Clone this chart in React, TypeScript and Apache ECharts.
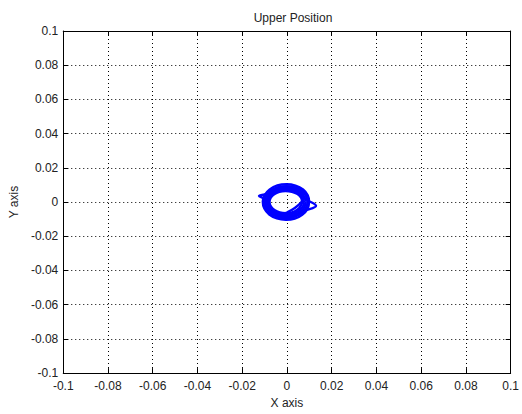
import React, { useEffect, useRef } from "react";
import * as echarts from "echarts";

const titleText = "Upper Position";
const xName = "X axis";
const yName = "Y axis";
const xTickLabels = ["-0.1", "-0.08", "-0.06", "-0.04", "-0.02", "0", "0.02", "0.04", "0.06", "0.08", "0.1"];
const yTickLabels = ["-0.1", "-0.08", "-0.06", "-0.04", "-0.02", "0", "0.02", "0.04", "0.06", "0.08", "0.1"];

const loop1 = [[0.0068,0.0002],[0.0063,0.0026],[0.0047,0.0047],[0.0022,0.0060],[-0.0006,0.0064],[-0.0034,0.0060],[-0.0057,0.0046],[-0.0073,0.0024],[-0.0078,-0.0001],[-0.0072,-0.0026],[-0.0056,-0.0047],[-0.0032,-0.0061],[-0.0004,-0.0065],[0.0023,-0.0060],[0.0046,-0.0045],[0.0062,-0.0022],[0.0068,0.0002]];
const loop2 = [[0.0076,-0.0003],[0.0071,0.0026],[0.0054,0.0052],[0.0027,0.0069],[-0.0004,0.0074],[-0.0036,0.0069],[-0.0062,0.0053],[-0.0080,0.0028],[-0.0086,0.0000],[-0.0080,-0.0029],[-0.0062,-0.0054],[-0.0035,-0.0070],[-0.0005,-0.0075],[0.0025,-0.0069],[0.0052,-0.0052],[0.0070,-0.0028],[0.0076,-0.0003]];
const loop3 = [[0.0084,0.0001],[0.0078,0.0031],[0.0060,0.0059],[0.0031,0.0077],[-0.0003,0.0083],[-0.0038,0.0078],[-0.0067,0.0060],[-0.0086,0.0032],[-0.0093,0.0001],[-0.0087,-0.0031],[-0.0068,-0.0059],[-0.0039,-0.0077],[-0.0006,-0.0084],[0.0028,-0.0078],[0.0057,-0.0059],[0.0077,-0.0032],[0.0084,0.0001]];
const loop4 = [[0.0092,0.0000],[0.0086,0.0035],[0.0066,0.0066],[0.0035,0.0086],[-0.0002,0.0093],[-0.0040,0.0087],[-0.0072,0.0067],[-0.0093,0.0036],[-0.0101,0.0002],[-0.0094,-0.0034],[-0.0073,-0.0066],[-0.0042,-0.0086],[-0.0005,-0.0094],[0.0032,-0.0087],[0.0063,-0.0066],[0.0085,-0.0036],[0.0092,0.0000]];
const loop5 = [[0.0099,0.0002],[0.0093,0.0039],[0.0072,0.0073],[0.0038,0.0096],[-0.0002,0.0104],[-0.0043,0.0097],[-0.0077,0.0074],[-0.0100,0.0040],[-0.0108,0.0002],[-0.0101,-0.0038],[-0.0079,-0.0073],[-0.0045,-0.0096],[-0.0005,-0.0104],[0.0035,-0.0097],[0.0068,-0.0074],[0.0092,-0.0040],[0.0099,0.0002]];
const loop6 = [[0.0090,0.0010],[0.0083,0.0045],[0.0060,0.0072],[0.0025,0.0088],[-0.0015,0.0088],[-0.0050,0.0075],[-0.0080,0.0050],[-0.0125,0.0035],[-0.0095,0.0010],[-0.0098,-0.0025],[-0.0080,-0.0060],[-0.0045,-0.0082],[-0.0005,-0.0090],[0.0035,-0.0082],[0.0070,-0.0055],[0.0130,-0.0022],[0.0090,0.0010]];
const loop7 = [[0.0075,0.0020],[0.0060,0.0045],[0.0030,0.0068],[-0.0005,0.0072],[-0.0040,0.0066],[-0.0068,0.0045],[-0.0082,0.0012],[-0.0075,-0.0025],[-0.0055,-0.0055],[-0.0025,-0.0070],[0.0005,-0.0058],[0.0035,-0.0035],[0.0062,-0.0005],[0.0075,0.0020]];

const loops = [loop1, loop2, loop3, loop4, loop5, loop6, loop7];

const FONT = "'Liberation Sans', Arial, sans-serif";
const TXT = "#222";

export default function App() {
  const ref = useRef<HTMLDivElement>(null);
  useEffect(() => {
    if (!ref.current) return;
    const chart = echarts.init(ref.current, undefined, { renderer: "svg" });
    const axisCommon = {
      type: "value",
      min: -0.1,
      max: 0.1,
      interval: 0.02,
      axisLine: { show: true, onZero: false, lineStyle: { color: "#000", width: 1 } },
      axisTick: { show: true, inside: true, length: 5, lineStyle: { color: "#000" } },
    };
    chart.setOption({
      animation: false,
      backgroundColor: "#fff",
      title: {
        text: titleText,
        left: 288,
        textAlign: "center",
        top: 7,
        textStyle: { fontFamily: FONT, fontSize: 12, fontWeight: "normal", color: TXT },
      },
      grid: { left: 62, right: 7, top: 31, bottom: 36 },
      xAxis: [
        {
          ...axisCommon,
          position: "bottom",
          name: xName,
          nameLocation: "middle",
          nameGap: 22,
          nameTextStyle: { fontFamily: FONT, fontSize: 12, color: TXT },
          axisLabel: {
            margin: 7,
            fontFamily: FONT,
            fontSize: 12,
            color: TXT,
            showMinLabel: true,
            showMaxLabel: true,
            formatter: (_v: number, i: number) => xTickLabels[i],
          },
          splitLine: { show: true, lineStyle: { color: "#000", width: 1, type: [1, 3] } },
        },
        {
          ...axisCommon,
          position: "top",
          axisLabel: { show: false },
          splitLine: { show: false },
        },
      ],
      yAxis: [
        {
          ...axisCommon,
          position: "left",
          name: yName,
          nameLocation: "middle",
          nameGap: 43,
          nameRotate: 90,
          nameTextStyle: { fontFamily: FONT, fontSize: 12, color: TXT },
          axisLabel: {
            margin: 5,
            fontFamily: FONT,
            fontSize: 12,
            color: TXT,
            showMinLabel: true,
            showMaxLabel: true,
            formatter: (_v: number, i: number) => yTickLabels[i],
          },
          splitLine: { show: true, lineStyle: { color: "#000", width: 1, type: [1, 3] } },
        },
        {
          ...axisCommon,
          position: "right",
          axisLabel: { show: false },
          splitLine: { show: false },
        },
      ],
      series: loops.map((l) => ({
        type: "line",
        data: l,
        xAxisIndex: 0,
        yAxisIndex: 0,
        symbol: "none",
        smooth: 0.4,
        lineStyle: { color: "#0000ff", width: 2.4 },
        silent: true,
      })),
    });
    return () => chart.dispose();
  }, []);
  return (
    <div
      ref={ref}
      style={{ position: "fixed", left: 0, top: 0, width: 522, height: 414, background: "#fff" }}
    />
  );
}
